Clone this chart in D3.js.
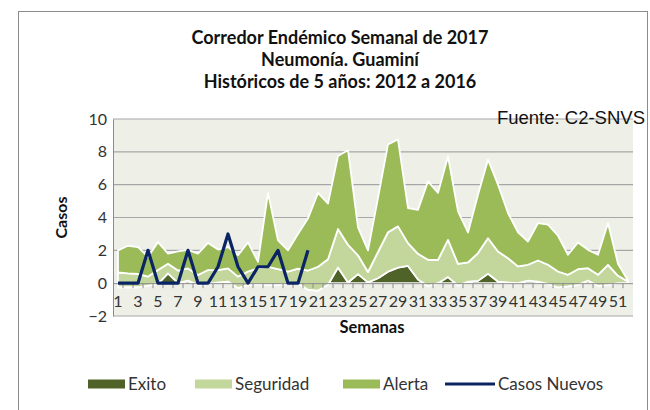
<!DOCTYPE html>
<html>
<head>
<meta charset="utf-8">
<script src="https://cdn.jsdelivr.net/npm/d3@7"></script>
<style>
  html, body { margin: 0; padding: 0; background: #fff; }
  svg { display: block; }
  text { font-family: Lato, "Open Sans", sans-serif; }
</style>
</head>
<body>
<svg id="chart" width="650" height="410"></svg>
<script>
// Semanas epidemiológicas 1..52
const semanas = d3.range(1, 53);
const etiquetasSemana = semanas.filter(w => w % 2 === 1);

// Franjas del corredor (valores por tramo, se apilan en orden)
const exito = [
  -0.25, -0.25, -0.25, -0.15, -0.05, 0.60, 0.00, 0.15, -0.10, -0.05,
   0.05,  0.10, -0.30, -0.10, -0.05, -0.10, -0.10, -0.05, 0.00, -0.40,
  -0.45, -0.10,  0.95,  0.04,  0.55,  0.05,  0.30,  0.70, 0.95,  1.05,
   0.22, -0.17,  0.00,  0.37, -0.14,  0.10,  0.14,  0.57, 0.10,  0.04,
   0.00,  0.16,  0.10, -0.05, -0.26, -0.20, -0.10,  0.16, -0.16, -0.10,
   0.00,  0.00
];
const seguridad = [
  0.90, 0.85, 0.82, 0.55, 0.85, 0.58, 0.77, 0.75, 0.60, 0.85,
  0.75, 0.80, 0.70, 0.81, 0.95, 1.10, 0.95, 0.76, 0.88, 1.17,
  1.45, 1.56, 2.35, 2.30, 1.15, 0.63, 1.60, 2.40, 2.51, 1.39,
  1.57, 1.59, 1.42, 2.27, 1.32, 1.16, 1.69, 2.17, 1.83, 1.48,
  1.02, 0.96, 1.28, 1.17, 0.97, 0.71, 0.95, 0.75, 0.67, 1.22,
  0.45, 0.10
];
const alerta = [
  1.35, 1.68, 1.63, 1.20, 1.70, 0.62, 1.16, 1.13, 1.30, 1.65,
  1.25, 1.30, 1.30, 1.77, 0.40, 4.50, 1.75, 1.29, 2.12, 3.18,
  4.50, 3.39, 4.45, 5.76, 1.70, 1.32, 3.30, 5.35, 5.29, 2.13,
  2.68, 4.78, 4.08, 5.08, 3.19, 1.83, 3.56, 4.78, 4.07, 2.75,
  2.07, 1.42, 2.28, 2.44, 2.18, 1.22, 1.63, 1.12, 1.22, 2.54,
  0.73, 0.06
];

// Casos notificados en 2017 (semanas 1..20)
const casosNuevos = [0, 0, 0, 2, 0, 0, 0, 2, 0, 0, 1, 3, 1, 0, 1, 1, 2, 0, 0, 2];

const yTicks = [-2, 0, 2, 4, 6, 8, 10];

const series = ["Exito", "Seguridad", "Alerta"];
const colores = { Exito: "#4F6228", Seguridad: "#C3D69B", Alerta: "#9BBB59" };
const colorCasos = "#0B2463";

const svg = d3.select("#chart");

// marco del gráfico
svg.append("rect")
  .attr("x", 18.5).attr("y", 11.5)
  .attr("width", 629).attr("height", 420)
  .attr("fill", "#fff").attr("stroke", "#8c8c8c").attr("stroke-width", 1);

// títulos
const titulos = [
  "Corredor Endémico Semanal de 2017",
  "Neumonía. Guaminí",
  "Históricos de 5 años:  2012 a 2016"
];
svg.append("g").selectAll("text").data(titulos).join("text")
  .attr("x", 340).attr("y", (d, i) => 44 + i * 22)
  .attr("text-anchor", "middle")
  .attr("font-size", 18).attr("font-weight", "bold").attr("fill", "#111")
  .text(d => d);

const plot = { left: 113, right: 633, top: 119, bottom: 316 };

const x = d3.scaleBand().domain(semanas).range([plot.left, plot.right]);
const xc = w => x(w) + x.bandwidth() / 2;
const y = d3.scaleLinear().domain([-2, 10]).range([plot.bottom, plot.top]);

// fondo del área de trazado
svg.append("rect")
  .attr("x", plot.left).attr("y", plot.top)
  .attr("width", plot.right - plot.left).attr("height", plot.bottom - plot.top)
  .attr("fill", "#EEF0E8");

// líneas de división
svg.append("g").selectAll("line").data(yTicks.filter(v => v !== 0)).join("line")
  .attr("x1", plot.left).attr("x2", plot.right)
  .attr("y1", d => y(d)).attr("y2", d => y(d))
  .attr("stroke", "#a6a6a6").attr("stroke-width", 1.2);

// apilado de las franjas
const tabla = semanas.map((w, i) => ({
  semana: w, Exito: exito[i], Seguridad: seguridad[i], Alerta: alerta[i]
}));
const stack = d3.stack().keys(series).offset(d3.stackOffsetNone);
const capas = stack(tabla);

const area = d3.area()
  .x(d => xc(d.data.semana))
  .y0(d => y(d[0]))
  .y1(d => y(d[1]));

svg.append("g").selectAll("path").data(capas).join("path")
  .attr("d", area)
  .attr("fill", d => colores[d.key])
  .attr("stroke", "#fff").attr("stroke-width", 1.8)
  .attr("stroke-linejoin", "round");

// eje vertical
const yAxis = svg.append("g")
  .attr("transform", `translate(${plot.left},0)`)
  .call(d3.axisLeft(y).tickValues(yTicks).tickSize(0).tickPadding(6));
yAxis.select(".domain").attr("stroke", "#8c8c8c");
yAxis.selectAll("text").attr("font-size", 16).attr("fill", "#333")
  .style("font-family", "Lato, sans-serif");

// eje de categorías en y = 0
const xAxis = svg.append("g")
  .attr("transform", `translate(0,${y(0)})`)
  .call(d3.axisBottom(x).tickValues(etiquetasSemana).tickSize(0).tickPadding(12));
xAxis.select(".domain").attr("stroke", "#8c8c8c").attr("d", `M${plot.left},0.5H${plot.right}`);
xAxis.selectAll("text").attr("font-size", 16).attr("fill", "#333")
  .style("font-family", "Lato, sans-serif");
// marcas entre categorías
xAxis.append("g").selectAll("line").data(semanas.slice(1)).join("line")
  .attr("x1", d => x(d)).attr("x2", d => x(d))
  .attr("y1", 0).attr("y2", 5)
  .attr("stroke", "#8c8c8c");

// línea de casos nuevos
const linea = d3.line()
  .x((d, i) => xc(semanas[i]))
  .y(d => y(d));
svg.append("path")
  .datum(casosNuevos)
  .attr("d", linea)
  .attr("fill", "none")
  .attr("stroke", colorCasos).attr("stroke-width", 3.2)
  .attr("stroke-linejoin", "round");

// títulos de ejes
svg.append("text")
  .attr("transform", `translate(67,${(plot.top + plot.bottom) / 2}) rotate(-90)`)
  .attr("text-anchor", "middle")
  .attr("font-size", 16).attr("font-weight", "bold").attr("fill", "#111")
  .text("Casos");
svg.append("text")
  .attr("x", 372).attr("y", 333)
  .attr("text-anchor", "middle")
  .attr("font-size", 16.5).attr("font-weight", "bold").attr("fill", "#111")
  .text("Semanas");

// fuente
svg.append("text")
  .attr("x", 645).attr("y", 124)
  .attr("text-anchor", "end")
  .attr("font-size", 18.5).attr("fill", "#111")
  .style("font-family", "'Liberation Sans', Arial, sans-serif")
  .text("Fuente: C2-SNVS");

// leyenda
const leyenda = [
  { nombre: "Exito", tipo: "area", color: colores.Exito, x: 88 },
  { nombre: "Seguridad", tipo: "area", color: colores.Seguridad, x: 195 },
  { nombre: "Alerta", tipo: "area", color: colores.Alerta, x: 343 },
  { nombre: "Casos Nuevos", tipo: "linea", color: colorCasos, x: 445 }
];
const ly = 384;
const items = svg.append("g").selectAll("g").data(leyenda).join("g")
  .attr("transform", d => `translate(${d.x},${ly})`);
items.filter(d => d.tipo === "area").append("rect")
  .attr("x", 0).attr("y", -4.5).attr("width", 37).attr("height", 9)
  .attr("fill", d => d.color);
items.filter(d => d.tipo === "linea").append("line")
  .attr("x1", 0).attr("x2", 50).attr("y1", 0).attr("y2", 0)
  .attr("stroke", d => d.color).attr("stroke-width", 3);
items.append("text")
  .attr("x", d => d.tipo === "area" ? 40 : 53)
  .attr("y", 5.5)
  .attr("font-size", 17).attr("fill", "#333")
  .text(d => d.nombre);
</script>
</body>
</html>
